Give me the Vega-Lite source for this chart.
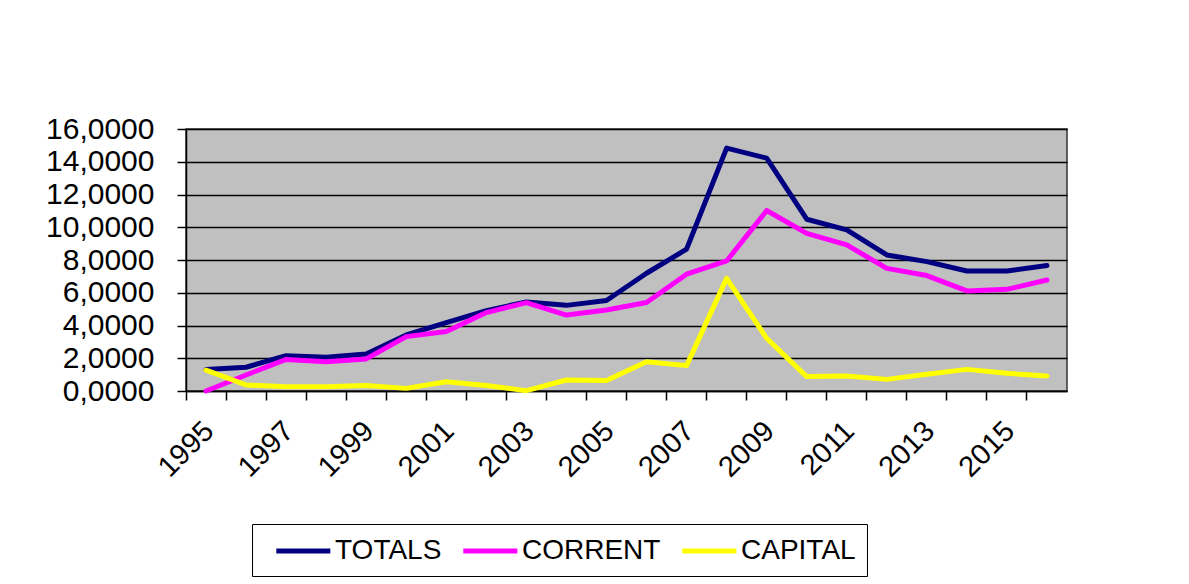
{
  "$schema": "https://vega.github.io/schema/vega-lite/v6.json",
  "width": 881,
  "height": 262,
  "padding": {"left": 45, "top": 114, "right": 5, "bottom": 5},
  "background": "white",
  "data": {
    "values": [
      {"year": "1995", "series": "TOTALS", "value": 1.32},
      {"year": "1996", "series": "TOTALS", "value": 1.45},
      {"year": "1997", "series": "TOTALS", "value": 2.16},
      {"year": "1998", "series": "TOTALS", "value": 2.06},
      {"year": "1999", "series": "TOTALS", "value": 2.26},
      {"year": "2000", "series": "TOTALS", "value": 3.42},
      {"year": "2001", "series": "TOTALS", "value": 4.18},
      {"year": "2002", "series": "TOTALS", "value": 4.91},
      {"year": "2003", "series": "TOTALS", "value": 5.44},
      {"year": "2004", "series": "TOTALS", "value": 5.23},
      {"year": "2005", "series": "TOTALS", "value": 5.53},
      {"year": "2006", "series": "TOTALS", "value": 7.19},
      {"year": "2007", "series": "TOTALS", "value": 8.66},
      {"year": "2008", "series": "TOTALS", "value": 14.83},
      {"year": "2009", "series": "TOTALS", "value": 14.22},
      {"year": "2010", "series": "TOTALS", "value": 10.49},
      {"year": "2011", "series": "TOTALS", "value": 9.84},
      {"year": "2012", "series": "TOTALS", "value": 8.31},
      {"year": "2013", "series": "TOTALS", "value": 7.9},
      {"year": "2014", "series": "TOTALS", "value": 7.33},
      {"year": "2015", "series": "TOTALS", "value": 7.33},
      {"year": "2016", "series": "TOTALS", "value": 7.66},
      {"year": "1995", "series": "CORRENT", "value": 0.0},
      {"year": "1996", "series": "CORRENT", "value": 0.98},
      {"year": "1997", "series": "CORRENT", "value": 1.93},
      {"year": "1998", "series": "CORRENT", "value": 1.79},
      {"year": "1999", "series": "CORRENT", "value": 1.96},
      {"year": "2000", "series": "CORRENT", "value": 3.32},
      {"year": "2001", "series": "CORRENT", "value": 3.63},
      {"year": "2002", "series": "CORRENT", "value": 4.79},
      {"year": "2003", "series": "CORRENT", "value": 5.4},
      {"year": "2004", "series": "CORRENT", "value": 4.64},
      {"year": "2005", "series": "CORRENT", "value": 4.95},
      {"year": "2006", "series": "CORRENT", "value": 5.4},
      {"year": "2007", "series": "CORRENT", "value": 7.13},
      {"year": "2008", "series": "CORRENT", "value": 7.94},
      {"year": "2009", "series": "CORRENT", "value": 11.02},
      {"year": "2010", "series": "CORRENT", "value": 9.63},
      {"year": "2011", "series": "CORRENT", "value": 8.92},
      {"year": "2012", "series": "CORRENT", "value": 7.49},
      {"year": "2013", "series": "CORRENT", "value": 7.05},
      {"year": "2014", "series": "CORRENT", "value": 6.11},
      {"year": "2015", "series": "CORRENT", "value": 6.21},
      {"year": "2016", "series": "CORRENT", "value": 6.78},
      {"year": "1995", "series": "CAPITAL", "value": 1.28},
      {"year": "1996", "series": "CAPITAL", "value": 0.37},
      {"year": "1997", "series": "CAPITAL", "value": 0.26},
      {"year": "1998", "series": "CAPITAL", "value": 0.26},
      {"year": "1999", "series": "CAPITAL", "value": 0.33},
      {"year": "2000", "series": "CAPITAL", "value": 0.16},
      {"year": "2001", "series": "CAPITAL", "value": 0.57},
      {"year": "2002", "series": "CAPITAL", "value": 0.33},
      {"year": "2003", "series": "CAPITAL", "value": 0.02},
      {"year": "2004", "series": "CAPITAL", "value": 0.67},
      {"year": "2005", "series": "CAPITAL", "value": 0.64},
      {"year": "2006", "series": "CAPITAL", "value": 1.79},
      {"year": "2007", "series": "CAPITAL", "value": 1.55},
      {"year": "2008", "series": "CAPITAL", "value": 6.88},
      {"year": "2009", "series": "CAPITAL", "value": 3.22},
      {"year": "2010", "series": "CAPITAL", "value": 0.88},
      {"year": "2011", "series": "CAPITAL", "value": 0.92},
      {"year": "2012", "series": "CAPITAL", "value": 0.71},
      {"year": "2013", "series": "CAPITAL", "value": 1.02},
      {"year": "2014", "series": "CAPITAL", "value": 1.32},
      {"year": "2015", "series": "CAPITAL", "value": 1.08},
      {"year": "2016", "series": "CAPITAL", "value": 0.92}
    ]
  },
  "mark": {"type": "line", "strokeWidth": 5, "strokeCap": "round", "strokeJoin": "round"},
  "encoding": {
    "x": {
      "field": "year",
      "type": "ordinal",
      "bandPosition": 0.5,
      "scale": {"type": "band", "paddingInner": 0, "paddingOuter": 0},
      "axis": {
        "title": null,
        "bandPosition": 0,
        "labelOffset": -7,
        "labelExpr": "toNumber(datum.value) % 2 == 1 ? datum.label : ''",
        "labelAngle": -45,
        "labelAlign": "right",
        "labelBaseline": "top",
        "labelFont": "Liberation Sans",
        "labelFontSize": 29,
        "labelColor": "black",
        "labelPadding": 16,
        "tickSize": 9,
        "tickColor": "black",
        "tickWidth": 1.5,
        "domainColor": "black",
        "domainWidth": 1.5,
        "grid": false
      }
    },
    "y": {
      "field": "value",
      "type": "quantitative",
      "scale": {"domain": [0, 16], "nice": false, "zero": true},
      "axis": {
        "title": null,
        "values": [0, 2, 4, 6, 8, 10, 12, 14, 16],
        "labelExpr": "replace(format(datum.value, '.4f'), '.', ',')",
        "labelFont": "Liberation Sans",
        "labelFontSize": 30,
        "labelColor": "black",
        "labelPadding": 23,
        "tickSize": 9,
        "tickColor": "black",
        "tickWidth": 1.5,
        "domainColor": "black",
        "domainWidth": 1.5,
        "grid": true,
        "gridColor": "black",
        "gridWidth": 1.5,
        "gridOpacity": 1
      }
    },
    "color": {
      "field": "series",
      "type": "nominal",
      "scale": {"domain": ["TOTALS", "CORRENT", "CAPITAL"], "range": ["#000080", "#FF00FF", "#FFFF00"]},
      "legend": {
        "title": null,
        "orient": "none",
        "direction": "horizontal",
        "legendX": 66,
        "legendY": 395,
        "symbolType": "M-0.2,0H3.8",
        "symbolSize": 729,
        "symbolStrokeWidth": 5,
        "labelFont": "Liberation Sans",
        "labelFontSize": 28,
        "labelColor": "black",
        "labelOffset": 40,
        "columnPadding": 8,
        "padding": 11,
        "strokeColor": "black",
        "fillColor": "white"
      }
    }
  },
  "config": {
    "view": {"fill": "#C0C0C0", "stroke": "#333333", "strokeWidth": 1.5}
  }
}
